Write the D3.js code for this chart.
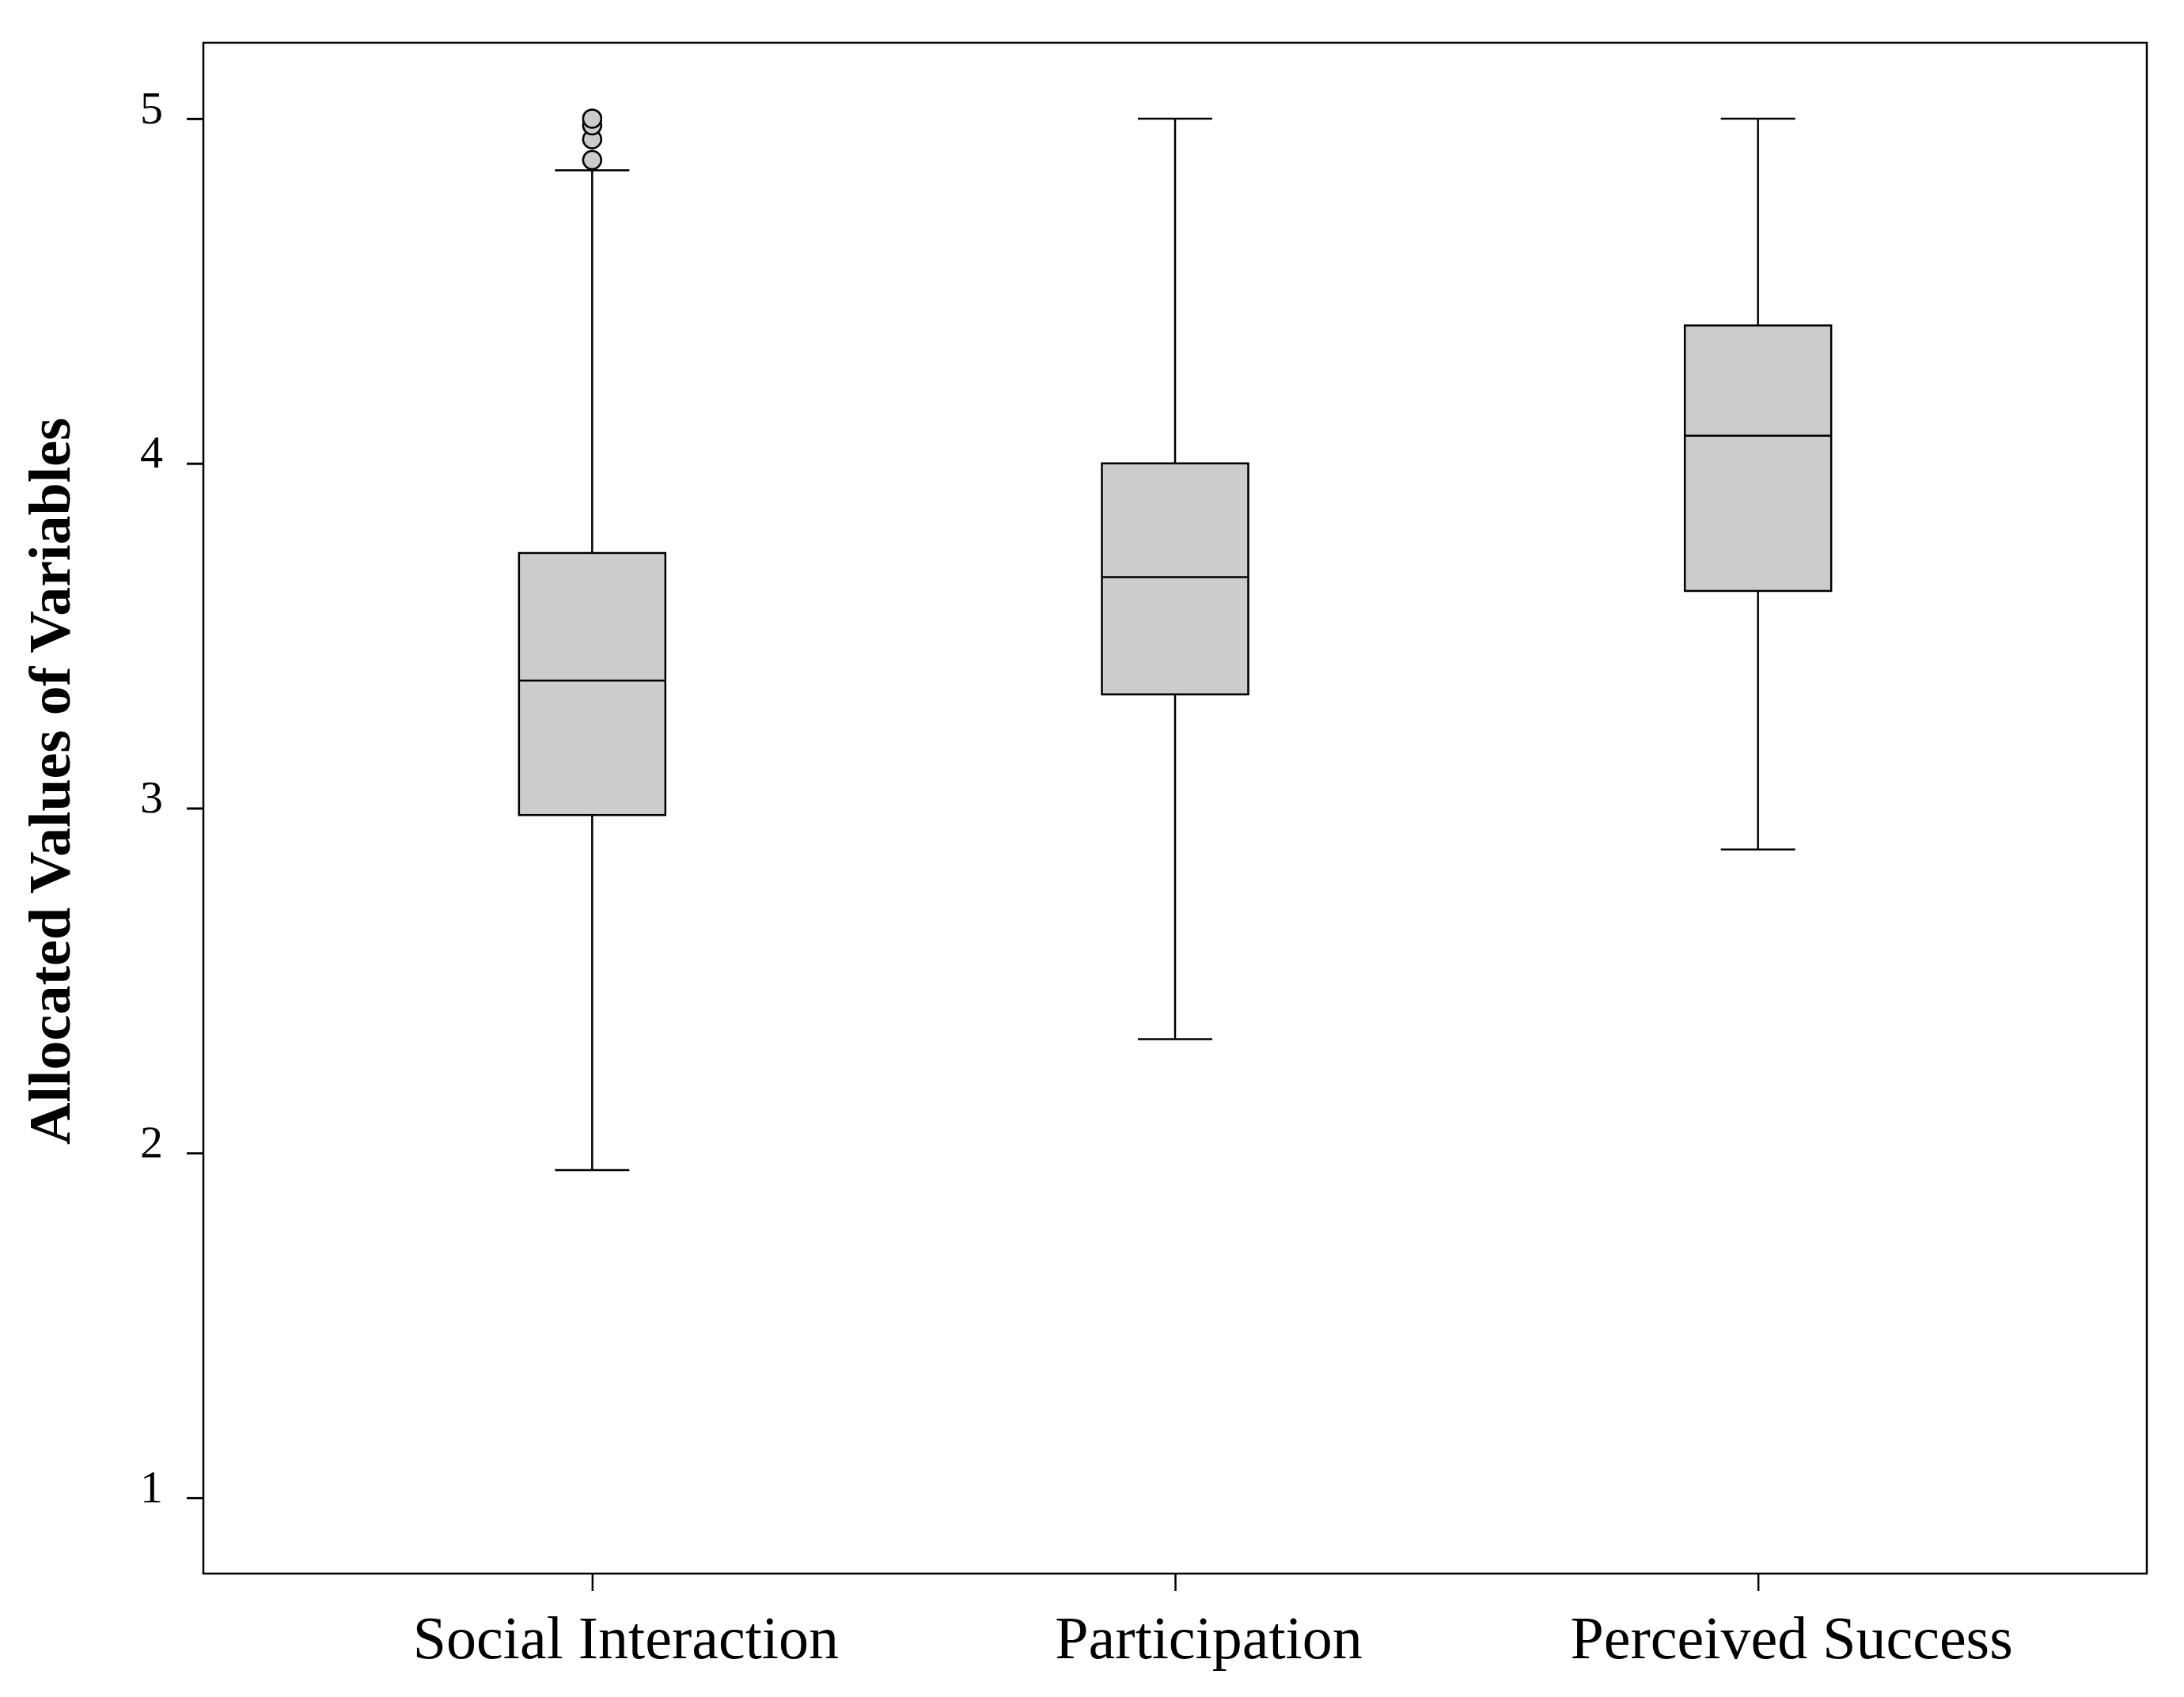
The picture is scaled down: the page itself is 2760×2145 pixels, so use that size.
<!DOCTYPE html>
<html>
<head>
<meta charset="utf-8">
<script src="https://cdn.jsdelivr.net/npm/d3@7"></script>
<style>
  body { margin: 0; background: #fff; }
  svg { display: block; }
  text { font-family: "Liberation Serif", serif; fill: #000; }
</style>
</head>
<body>
<script>
// values
const categories = ["Social Interaction", "Participation", "Perceived Success"];
const lowerWhisker = [1.95, 2.33, 2.88];
const q1 = [2.98, 3.33, 3.63];
const medians = [3.37, 3.67, 4.08];
const q3 = [3.74, 4.0, 4.4];
const upperWhisker = [4.85, 5.0, 5.0];
const outliers = [[4.88, 4.94, 4.98, 5.0], [], []];
const yTicks = [1, 2, 3, 4, 5];
const yDomain = [0.78, 5.22];
const yTitle = "Allocated Values of Variables";

function init() {
  const dimensions = {
    margin: { top: 54, right: 47, bottom: 156, left: 257 },
    width: 2760,
    height: 2145
  }
  const { width, height, margin } = dimensions

  const svg = d3.select("body").append("svg").attr("width", width).attr("height", height);
  svg.append("rect").attr("width", width).attr("height", height).attr("fill", "#fff");

  boxPlot(svg, dimensions);
}

document.addEventListener("DOMContentLoaded", init)

function boxPlot(svg, dimensions) {
  const { width, height, margin } = dimensions
  const bottom = height - margin.bottom;
  const right = width - margin.right;

  const rows = categories.map((name, i) => ({
    name,
    lo: lowerWhisker[i],
    q1: q1[i],
    med: medians[i],
    q3: q3[i],
    hi: upperWhisker[i],
    out: outliers[i]
  }));

  const xScale = d3.scalePoint()
    .domain(categories)
    .range([margin.left, right])
    .padding(0.667);

  const yScale = d3.scaleLinear()
    .domain(yDomain)
    .range([bottom, margin.top]);

  const boxWidth = 185;
  const capWidth = 94;

  // frame
  svg.append("rect")
    .attr("x", margin.left)
    .attr("y", margin.top)
    .attr("width", right - margin.left)
    .attr("height", bottom - margin.top)
    .attr("fill", "none")
    .attr("stroke", "#000")
    .attr("stroke-width", 2.5);

  // y-axis
  const yAxis = d3.axisLeft(yScale)
    .tickValues(yTicks)
    .tickFormat(d3.format("d"))
    .tickSizeInner(21)
    .tickSizeOuter(0)
    .tickPadding(30);

  svg.append("g")
    .attr("transform", `translate(${margin.left},0)`)
    .call(yAxis)
    .call(g => g.select(".domain").remove())
    .call(g => g.selectAll(".tick line").attr("stroke", "#000").attr("stroke-width", 3))
    .call(g => g.selectAll(".tick text")
      .attr("dy", "0.09em")
      .style("font-family", "'Liberation Serif', serif")
      .style("font-size", "58px"));

  // x-axis
  const xAxis = d3.axisBottom(xScale)
    .tickSizeInner(22)
    .tickSizeOuter(0)
    .tickPadding(31);

  svg.append("g")
    .attr("transform", `translate(0,${bottom})`)
    .call(xAxis)
    .call(g => g.select(".domain").remove())
    .call(g => g.selectAll(".tick line").attr("stroke", "#000").attr("stroke-width", 2.5))
    .call(g => g.selectAll(".tick text")
      .attr("dx", 42)
      .style("font-family", "'Liberation Serif', serif")
      .style("font-size", "76px"));

  // y title
  svg.append("text")
    .attr("transform", `translate(88,${(margin.top + bottom) / 2 - 34}) rotate(-90)`)
    .attr("text-anchor", "middle")
    .style("font-size", "74px")
    .style("font-weight", "bold")
    .text(yTitle);

  const boxes = svg.append("g")
    .selectAll("g")
    .data(rows)
    .join("g")
    .attr("transform", d => `translate(${xScale(d.name)},0)`);

  // whiskers
  boxes.append("line")
    .attr("y1", d => yScale(d.lo))
    .attr("y2", d => yScale(d.hi))
    .attr("stroke", "#000")
    .attr("stroke-width", 2.5);

  boxes.selectAll(".cap")
    .data(d => [d.lo, d.hi])
    .join("line")
    .attr("class", "cap")
    .attr("x1", -capWidth / 2)
    .attr("x2", capWidth / 2)
    .attr("y1", d => yScale(d))
    .attr("y2", d => yScale(d))
    .attr("stroke", "#000")
    .attr("stroke-width", 2.5);

  // box
  boxes.append("rect")
    .attr("x", -boxWidth / 2)
    .attr("width", boxWidth)
    .attr("y", d => yScale(d.q3))
    .attr("height", d => yScale(d.q1) - yScale(d.q3))
    .attr("fill", "#cccccc")
    .attr("stroke", "#000")
    .attr("stroke-width", 2.5);

  // median
  boxes.append("line")
    .attr("x1", -boxWidth / 2)
    .attr("x2", boxWidth / 2)
    .attr("y1", d => yScale(d.med))
    .attr("y2", d => yScale(d.med))
    .attr("stroke", "#000")
    .attr("stroke-width", 2.5);

  // outliers
  boxes.selectAll(".out")
    .data(d => d.out)
    .join("circle")
    .attr("class", "out")
    .attr("cy", d => yScale(d))
    .attr("r", 11.5)
    .attr("fill", "#cccccc")
    .attr("stroke", "#000")
    .attr("stroke-width", 2.5);
}
</script>
</body>
</html>
